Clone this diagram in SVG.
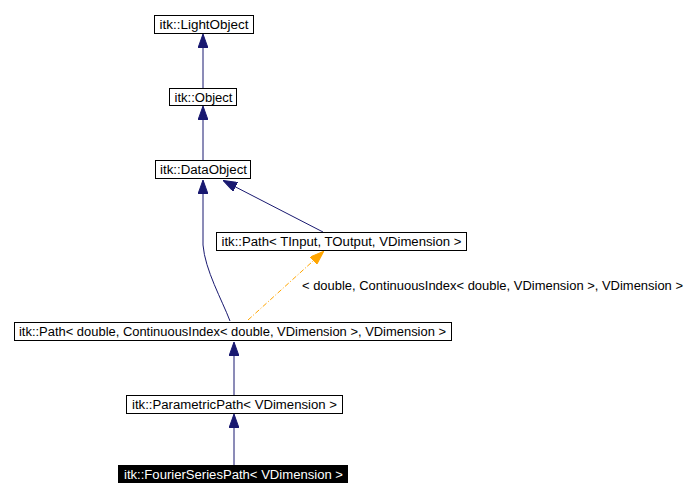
<svg xmlns="http://www.w3.org/2000/svg" width="697" height="499" viewBox="0 0 697 499">
<style>
.box{fill:#fff;stroke:#000;stroke-width:1}
.t{font-family:"Liberation Sans",Arial,sans-serif;font-size:12px;fill:#000;text-anchor:start}
.e{fill:none;stroke:#191970;stroke-width:1}
.o{fill:none;stroke:#ffa500;stroke-width:1;stroke-dasharray:5,2,1,2}
</style>
<defs>
<marker id="ab" markerWidth="14" markerHeight="10" refX="13" refY="5" orient="auto" markerUnits="userSpaceOnUse"><path d="M0,0 L14,5 L0,10 Z" fill="#191970" stroke="#191970"/></marker>
<marker id="ao" markerWidth="14" markerHeight="10" refX="13" refY="5" orient="auto" markerUnits="userSpaceOnUse"><path d="M0,0 L14,5 L0,10 Z" fill="#ffa500" stroke="#ffa500"/></marker>
</defs>
<rect width="697" height="499" fill="#fff"/>
<g id="edges">
<path class="e" d="M203,88 L203,35" marker-end="url(#ab)"/>
<path class="e" d="M203,160 L203,107" marker-end="url(#ab)"/>
<path class="e" d="M323,232 L224,181" marker-end="url(#ab)"/>
<path class="e" d="M230,321 C222,300 205,270 203,245 L203,181" marker-end="url(#ab)"/>
<path class="o" d="M248,320 L323,252" marker-end="url(#ao)"/>
<path class="e" d="M234,395 L234,343" marker-end="url(#ab)"/>
<path class="e" d="M234,465 L234,415" marker-end="url(#ab)"/>
<text x="302" y="290" class="t" textLength="381" lengthAdjust="spacingAndGlyphs">&lt; double, ContinuousIndex&lt; double, VDimension &gt;, VDimension &gt;</text>
</g>
<g id="n_lightobject"><rect class="box" x="154.5" y="15.5" width="99" height="18"/><text class="t" x="159.5" y="28.5" textLength="89" lengthAdjust="spacingAndGlyphs">itk::LightObject</text></g>
<g id="n_object"><rect class="box" x="169.5" y="88.5" width="67" height="17"/><text class="t" x="174.5" y="101.5" textLength="58" lengthAdjust="spacingAndGlyphs">itk::Object</text></g>
<g id="n_dataobject"><rect class="box" x="155.5" y="160.5" width="95" height="18"/><text class="t" x="160" y="173.5" textLength="87" lengthAdjust="spacingAndGlyphs">itk::DataObject</text></g>
<g id="n_path_tinput"><rect class="box" x="216.5" y="232.5" width="250" height="18"/><text class="t" x="221.5" y="245.5" textLength="240" lengthAdjust="spacingAndGlyphs">itk::Path&lt; TInput, TOutput, VDimension &gt;</text></g>
<g id="n_path_double"><rect class="box" x="14.5" y="322.5" width="437" height="18"/><text class="t" x="19" y="335.5" textLength="427" lengthAdjust="spacingAndGlyphs">itk::Path&lt; double, ContinuousIndex&lt; double, VDimension &gt;, VDimension &gt;</text></g>
<g id="n_parametric"><rect class="box" x="126.5" y="395.5" width="216" height="18"/><text class="t" x="132" y="408.5" textLength="205" lengthAdjust="spacingAndGlyphs">itk::ParametricPath&lt; VDimension &gt;</text></g>
<g id="n_fourier"><rect x="118" y="465" width="230" height="18" fill="#000"/><text class="t" x="124" y="478.5" style="fill:#fff" textLength="219" lengthAdjust="spacingAndGlyphs">itk::FourierSeriesPath&lt; VDimension &gt;</text></g>
</svg>
